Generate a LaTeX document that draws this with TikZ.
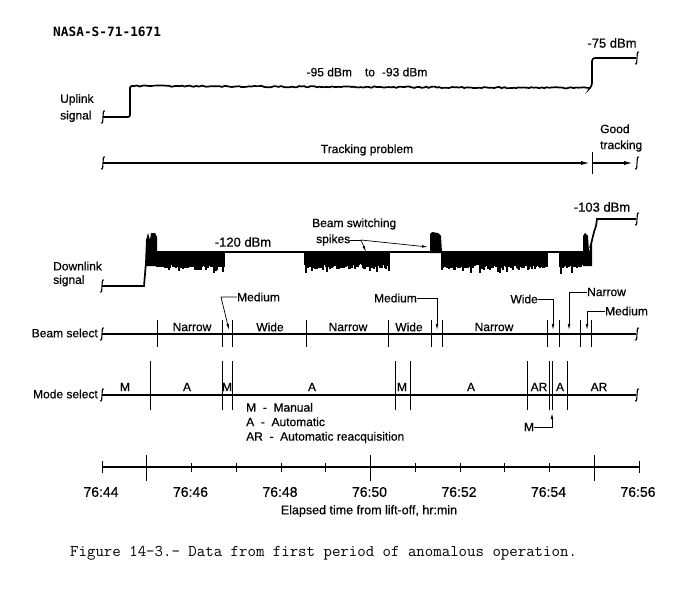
\documentclass[tikz,border=0pt]{standalone}
\usepackage{fontspec}
\setmainfont{Liberation Sans}[FakeBold=0.5]
\newfontfamily\idfont{DejaVu Sans Mono}
\usetikzlibrary{arrows.meta,decorations.pathmorphing}
\def\brk(#1,#2){\draw[line width=1.1pt] (#1+2,#2-6) .. controls (#1-0.5,#2-7) and (#1+0.5,#2-2) .. (#1,#2) .. controls (#1-0.5,#2+2) and (#1+0.5,#2+7) .. (#1-2,#2+6);}
\def\noiseband(#1:#2:#3){\fill (#1,#3) rectangle (#2,#3+12);
	\foreach \xx in {#1,...,#2}{\pgfmathsetmacro\dd{#3+12+4*rnd+7*rnd^4}
		\draw[line width=1.1pt] (\xx,#3) -- (\xx,\dd);}}

\begin{document}
\begin{tikzpicture}[x=1pt,y=-1pt,
		sig/.style={line width=1.7pt},
		axis/.style={line width=1.6pt},
		tick/.style={line width=0.9pt},
		ptr/.style={line width=0.7pt,-{Latex[length=6pt,width=2.6pt]}},
		lbl/.style={inner sep=0pt,font=\fontsize{12}{14}\selectfont},
		dbm/.style={inner sep=0pt,font=\fontsize{13}{15}\selectfont},
		tim/.style={inner sep=0pt,font=\fontsize{14}{16}\selectfont}]
		%%%%% START %%%%%
		\pgfmathsetseed{14}
		\fill[white] (0,0) rectangle (700,605);
		\useasboundingbox (0,0) rectangle (700,605);
		
		\node[anchor=west,inner sep=0pt,font=\idfont\bfseries\fontsize{12.8}{15}\selectfont] (nasa) at (53,32) {NASA-S-71-1671};
		
		% uplink
		\node[lbl,anchor=west,align=left,font=\fontsize{12}{16.7}\selectfont] (uplbl) at (60,108) {Uplink\\signal};
		\draw[sig,rounded corners=2pt] (103,117) -- (130,117) -- (130,86) -- (134,86);
		\draw[sig,decorate,decoration={random steps,segment length=2.5pt,amplitude=0.7pt}] (134,86) -- (590,88);
		\draw[sig,rounded corners=3pt] (590,88) -- (592,86) -- (592,58) -- (636,58);
		\brk(103,117)
		\brk(637,58)
		\node[lbl] (up95) at (367,72) {-95 dBm\hspace{13pt}to\hspace{7pt}-93 dBm};
		\node[dbm] (up75) at (612,43) {-75 dBm};
		
		% tracking
		\draw[axis,-{Latex[length=10pt,width=4pt]}] (103,163) -- (591,163);
		\draw[axis,-{Latex[length=10pt,width=4pt]}] (592,163) -- (634,163);
		\draw[tick] (592,152) -- (592,174);
		\brk(103,163)
		\brk(637,163)
		\node[lbl] (trk) at (367,150) {Tracking problem};
		\node[lbl,anchor=west,align=left,font=\fontsize{12}{16}\selectfont] (good) at (600,138) {Good\\tracking};
		
		% downlink
		\node[lbl,anchor=west,align=left,font=\fontsize{12}{13.5}\selectfont] (dnlbl) at (53,274) {Downlink\\signal};
		\draw[sig] (102,286) -- (144,286) -- (146,262);
		\fill (145,266) -- (146,240) -- (148,233) -- (150,240) -- (151,233) -- (155,233) -- (157,237) -- (157,266) -- cycle;
		\draw[sig] (157,252) -- (430,252);
		\draw[sig] (442,252) -- (583,252);
		\noiseband(157:224:252)
		\noiseband(305:389:252)
		\noiseband(442:547:252)
		\noiseband(560:582:252)
		\fill (430,253) -- (430,234) -- (432,232) -- (438,233) -- (441,236) -- (442,253) -- cycle;
		\fill (583,266) -- (583,236) -- (585,233) -- (588,236) -- (589,252) -- (591,244) -- (592,240) -- (592,266) -- cycle;
		\draw[sig] (590,248) -- (594,232) -- (596,226) -- (597,219) -- (636,219);
		\brk(102,286)
		\brk(637,219)
		\node[dbm] (dn120) at (243,242) {-120 dBm};
		\node[dbm] (dn103) at (602,207) {-103 dBm};
		\node[lbl,anchor=west] (bsw) at (312,224) {Beam switching};
		\node[lbl,anchor=west] (spk) at (316,240) {spikes};
		\coordinate (swj) at (361,240);
		\coordinate (swA) at (428,247);
		\coordinate (swB) at (366,252);
		\draw[line width=0.7pt] (spk.east) -- (swj);
		\draw[ptr] (swj) -- (swA);
		\draw[ptr] (swj) -- (swB);
		
		% beam select
		\node[lbl,anchor=east] (beamlbl) at (98,333) {Beam select};
		\draw[axis] (102,334) -- (636,334);
		\brk(102,334)
		\brk(637,334)
		\foreach \x in {157,222,232,306,388,431,442,547,559,580,591}
			\draw[tick] (\x,320) -- (\x,347);
		\node[lbl] (bn1) at (192,327) {Narrow};
		\node[lbl] (bw1) at (270,327) {Wide};
		\node[lbl] (bn2) at (348,327) {Narrow};
		\node[lbl] (bw2) at (409,327) {Wide};
		\node[lbl] (bn3) at (494,327) {Narrow};
		\node[lbl,anchor=west] (bm1) at (237,297) {Medium};
		\node[lbl,anchor=east] (bm2) at (417,298) {Medium};
		\node[lbl,anchor=east] (bwd) at (538,299) {Wide};
		\node[lbl,anchor=west] (bnr) at (587,292) {Narrow};
		\node[lbl,anchor=west] (bm3) at (605,311) {Medium};
		\coordinate (bm1t) at (229,330);
		\coordinate (bm2t) at (437,330);
		\coordinate (bwdt) at (553,330);
		\coordinate (bnrt) at (569,330);
		\coordinate (bm3t) at (587,330);
		\draw[ptr] (bm1.west) -- (221,297) -- (bm1t);
		\draw[ptr] (bm2.east) -- (437,298) -- (bm2t);
		\draw[ptr] (bwd.east) -- (553,299) -- (bwdt);
		\draw[ptr] (bnr.west) -- (569,292) -- (bnrt);
		\draw[ptr] (bm3.west) -- (587,311) -- (bm3t);
		
		% mode select
		\node[lbl,anchor=east] (modelbl) at (98,394) {Mode select};
		\draw[axis] (102,395) -- (636,395);
		\brk(102,395)
		\brk(637,395)
		\foreach \x in {150,222,232,395,410,527,549,552,567}
			\draw[tick] (\x,361) -- (\x,410);
		\node[lbl] (mm1) at (125,387) {M};
		\node[lbl] (ma1) at (187,387) {A};
		\node[lbl] (mm2) at (227,387) {M};
		\node[lbl] (ma2) at (312,387) {A};
		\node[lbl] (mm3) at (402,387) {M};
		\node[lbl] (ma3) at (471,387) {A};
		\node[lbl] (mar1) at (539,387) {AR};
		\node[lbl] (ma4) at (560,387) {A};
		\node[lbl] (mar2) at (599,387) {AR};
		\node[lbl] (mptr) at (529,427) {M};
		\coordinate (mptrt) at (552,413);
		\draw[ptr] (mptr.east) -- (552,427) -- (mptrt);
		\node[lbl,anchor=west,align=left,font=\fontsize{12}{14.5}\selectfont] (legend) at (246,423) {M\ \ - \ Manual\\A\ \ - \ Automatic\\AR \ - \ Automatic reacquisition};
		
		% time axis
		\draw[axis] (102,467) -- (639,467);
		\draw[tick] (102,461) -- (102,473);
		\draw[tick] (639,461) -- (639,473);
		\foreach \t in {1,...,11}
			\draw[tick] (102+44.75*\t,463) -- (102+44.75*\t,472);
		\foreach \t in {1,6,11}
			\draw[tick] (102+44.75*\t,455) -- (102+44.75*\t,481);
		\foreach \t in {0,2,...,12}{
			\pgfmathtruncatemacro\mm{44+\t}
			\node[tim] (t\t) at (101+44.75*\t,492) {76:\mm};
		}
		\node[inner sep=0pt,font=\fontsize{12.5}{14}\selectfont] (elapsed) at (369,511) {Elapsed time from lift-off, hr:min};
		
		\node[anchor=west,inner sep=0pt,font=\ttfamily\fontsize{16.4}{18}\selectfont] (cap) at (70,553) {Figure 14-3.- Data from first period of anomalous operation.};
		%%%%% END %%%%%
	\end{tikzpicture}
\end{document}
